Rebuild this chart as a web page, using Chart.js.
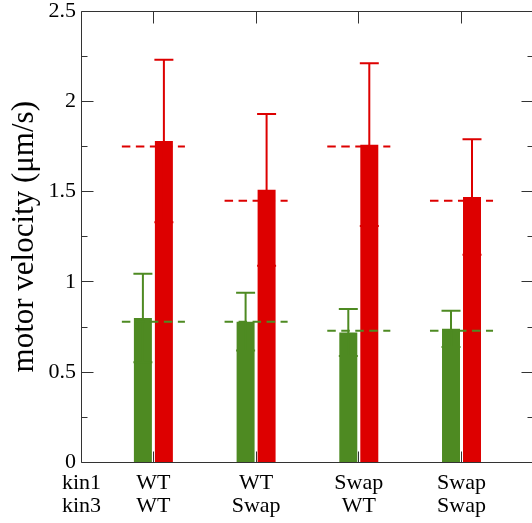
<!DOCTYPE html>
<html>
<head>
<meta charset="utf-8">
<script src="https://cdn.jsdelivr.net/npm/chart.js@4.4.1/dist/chart.umd.min.js"></script>
<style>
  html, body { margin: 0; padding: 0; background: #fff; overflow: hidden; }
  #c { display: block; }
</style>
</head>
<body>
<canvas id="c" width="534" height="523"></canvas>
<script>
// Genotype combinations (kin1 / kin3) for each bar group
const rowNames = ['kin1', 'kin3'];
const categories = [['WT', 'WT'], ['WT', 'Swap'], ['Swap', 'WT'], ['Swap', 'Swap']];

// Motor velocities (µm/s), mean and error, plus the dashed reference level
const motorA = [0.80, 0.78, 0.72, 0.74];
const motorAError = [0.245, 0.16, 0.13, 0.10];
const motorARef = [0.78, 0.78, 0.73, 0.73];

const motorB = [1.78, 1.51, 1.76, 1.47];
const motorBError = [0.45, 0.42, 0.45, 0.32];
const motorBRef = [1.75, 1.45, 1.75, 1.45];

// Axis ticks
const yTicks = [0, 0.5, 1, 1.5, 2, 2.5];
const xRange = [0.3, 4.7];

const FONT = "'Liberation Serif', 'Times New Roman', serif";
const GREEN = '#4e8a22';
const RED = '#dd0000';
const FRAME = '#333333';

const groupPos = categories.map((c, i) => i + 1);

function px(v) { return Math.round(v - 0.5) + 0.5; }

// Error bars, dashed reference levels, frame and inward tick marks
const decorations = {
  id: 'decorations',
  afterDatasetsDraw(chart) {
    const ctx = chart.ctx;
    const ys = chart.scales.y, xs = chart.scales.x;
    chart.data.datasets.forEach((ds, di) => {
      const meta = chart.getDatasetMeta(di);
      ctx.save();
      ctx.strokeStyle = ds.backgroundColor;
      ctx.lineWidth = 2;
      meta.data.forEach((bar, i) => {
        const v = ds.data[i].y, e = ds.errors[i];
        const top = ys.getPixelForValue(v + e);
        const bot = ys.getPixelForValue(v - e);
        const half = bar.width / 2 + 0.5;
        ctx.beginPath();
        ctx.moveTo(bar.x, bot); ctx.lineTo(bar.x, top);
        ctx.moveTo(bar.x - half, top); ctx.lineTo(bar.x + half, top);
        ctx.moveTo(bar.x - half, bot); ctx.lineTo(bar.x + half, bot);
        ctx.stroke();
      });
      ctx.restore();
    });
    const spacing = xs.getPixelForValue(2) - xs.getPixelForValue(1);
    const halfSpan = spacing * 0.307;
    chart.data.datasets.forEach((ds) => {
      ctx.save();
      ctx.strokeStyle = ds.backgroundColor;
      ctx.lineWidth = 2;
      ctx.setLineDash([8.5, 5.5]);
      ds.reference.forEach((r, i) => {
        const cx = xs.getPixelForValue(groupPos[i]);
        const py = ys.getPixelForValue(r);
        ctx.beginPath();
        ctx.moveTo(cx - halfSpan, py);
        ctx.lineTo(cx + halfSpan, py);
        ctx.stroke();
      });
      ctx.restore();
    });
  },
  afterDraw(chart) {
    const ctx = chart.ctx, a = chart.chartArea;
    const ys = chart.scales.y, xs = chart.scales.x;
    const L = px(a.left), R = px(a.right), T = px(a.top), B = px(a.bottom);
    ctx.save();
    ctx.strokeStyle = FRAME;
    ctx.lineWidth = 1;
    ctx.beginPath();
    ctx.moveTo(L, T); ctx.lineTo(R, T); ctx.lineTo(R, B); ctx.lineTo(L, B); ctx.closePath();
    yTicks.forEach((v, i) => {
      const y = px(ys.getPixelForValue(v));
      ctx.moveTo(L, y); ctx.lineTo(L + 12, y);
      ctx.moveTo(R, y); ctx.lineTo(R - 12, y);
      if (i < yTicks.length - 1) {
        const ym = px(ys.getPixelForValue((v + yTicks[i + 1]) / 2));
        ctx.moveTo(L, ym); ctx.lineTo(L + 6, ym);
        ctx.moveTo(R, ym); ctx.lineTo(R - 6, ym);
      }
    });
    groupPos.forEach((g) => {
      const x = px(xs.getPixelForValue(g));
      ctx.moveTo(x, T); ctx.lineTo(x, T + 12);
      ctx.moveTo(x, B); ctx.lineTo(x, B - 11);
    });
    ctx.stroke();
    ctx.restore();
  }
};

// Bar slots are measured against the narrowest tick gap (axis start to first group)
const barOptions = { borderWidth: 0, categoryPercentage: 0.584, barPercentage: 0.857 };

new Chart(document.getElementById('c'), {
  type: 'bar',
  data: {
    datasets: [
      Object.assign({
        label: 'kin1',
        data: motorA.map((v, i) => ({ x: groupPos[i], y: v })),
        errors: motorAError,
        reference: motorARef,
        backgroundColor: GREEN
      }, barOptions),
      Object.assign({
        label: 'kin3',
        data: motorB.map((v, i) => ({ x: groupPos[i], y: v })),
        errors: motorBError,
        reference: motorBRef,
        backgroundColor: RED
      }, barOptions)
    ]
  },
  options: {
    responsive: false,
    animation: false,
    devicePixelRatio: 1,
    layout: { padding: { top: 11, right: 0.6, bottom: 0, left: 0 } },
    plugins: { legend: { display: false }, tooltip: { enabled: false } },
    scales: {
      x: {
        type: 'linear',
        min: xRange[0],
        max: xRange[1],
        offset: false,
        grid: { display: false, drawTicks: false },
        border: { display: false },
        afterBuildTicks: (s) => { s.ticks = [xRange[0], ...groupPos].map((v) => ({ value: v })); },
        ticks: {
          autoSkip: false,
          maxRotation: 0,
          minRotation: 0,
          padding: 9.5,
          color: '#000',
          font: { family: FONT, size: 22, lineHeight: 23 / 22 },
          callback: (value, index) => (index === 0 ? rowNames : categories[index - 1])
        },
        afterFit: (s) => { s.height = 60.5; s.paddingLeft = 0; s.paddingRight = 0; }
      },
      y: {
        min: 0,
        max: 2.5,
        grid: { display: false, drawTicks: false },
        border: { display: false },
        afterBuildTicks: (s) => { s.ticks = yTicks.map((v) => ({ value: v })); },
        ticks: {
          padding: 5.5,
          color: '#000',
          font: { family: FONT, size: 22 },
          callback: (v) => String(v)
        },
        title: {
          display: true,
          text: 'motor velocity (μm/s)',
          color: '#000',
          font: { family: FONT, size: 31 },
          padding: { top: 6, bottom: 0 }
        },
        afterFit: (s) => { s.width = 81.5; s.paddingTop = 0; s.paddingBottom = 0; }
      }
    }
  },
  plugins: [decorations]
});
</script>
</body>
</html>
